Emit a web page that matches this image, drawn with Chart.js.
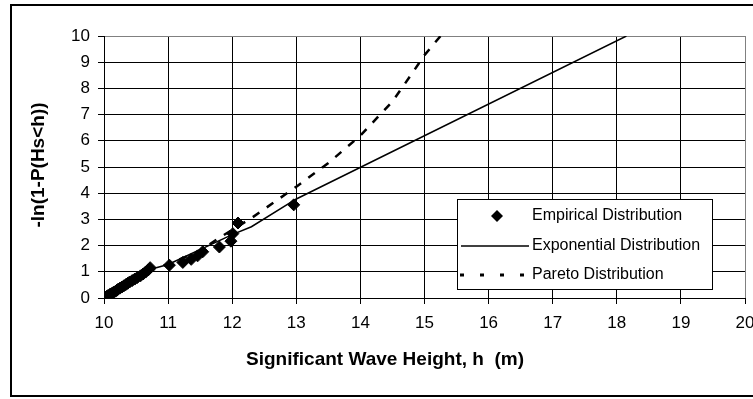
<!DOCTYPE html>
<html>
<head>
<meta charset="utf-8">
<script src="https://cdn.jsdelivr.net/npm/chart.js@4.4.1/dist/chart.umd.min.js"></script>
<style>
  html, body { margin: 0; padding: 0; background: #fff; }
  #wrap { position: relative; width: 753px; height: 399px; }
</style>
</head>
<body>
<div id="wrap"><canvas id="chart"></canvas></div>
<script>
// ranked storm peaks: wave height (m) vs -ln(1 - P)
const empiricalH = [
  10.02, 10.04, 10.06, 10.09, 10.10, 10.13, 10.15, 10.18, 10.20, 10.22,
  10.25, 10.28, 10.31, 10.34, 10.37, 10.40, 10.44, 10.48, 10.52, 10.57,
  10.61, 10.65, 10.69, 10.72, 11.02, 11.23, 11.36, 11.46, 11.54, 11.80,
  11.98, 12.01, 12.09, 12.96,
];
const empiricalY = [
  0.029, 0.059, 0.090, 0.121, 0.154, 0.188, 0.223, 0.260, 0.298, 0.336,
  0.377, 0.420, 0.464, 0.511, 0.560, 0.611, 0.665, 0.722, 0.782, 0.847,
  0.916, 0.990, 1.070, 1.157, 1.253, 1.358, 1.476, 1.609, 1.764, 1.946,
  2.169, 2.457, 2.862, 3.555,
];

// fitted curves
const exponentialH = [10.0, 10.7, 11.0, 12.0, 12.3, 13.0, 18.15];
const exponentialY = [0.0, 1.08, 1.28, 2.42, 2.72, 3.78, 10.0];

const paretoH = [10.0, 10.7, 11.0, 11.5, 11.8, 12.3, 12.75, 13.0, 13.5, 14.0, 14.5, 14.8, 15.0, 15.25];
const paretoY = [0.0, 1.02, 1.3, 1.8, 2.3, 3.05, 3.82, 4.25, 5.15, 6.2, 7.5, 8.55, 9.27, 10.0];

const xTickValues = [10, 11, 12, 13, 14, 15, 16, 17, 18, 19, 20];
const yTickValues = [0, 1, 2, 3, 4, 5, 6, 7, 8, 9, 10];

const seriesLabels = ['Empirical Distribution', 'Exponential Distribution', 'Pareto Distribution'];
const xTitle = 'Significant Wave Height, h  (m)';
const yTitle = '-ln(1-P(Hs<h))';

const FONT = '"Liberation Sans", Arial, sans-serif';
const toPoints = (xs, ys) => xs.map((x, i) => ({ x, y: ys[i] }));

// outer frame, axis titles and the boxed legend
const decorations = {
  id: 'decorations',
  afterDraw(chart) {
    const { ctx } = chart;
    const ds = chart.data.datasets;
    ctx.save();

    ctx.strokeStyle = '#000';
    ctx.lineWidth = 2;
    ctx.strokeRect(11, 5, 760, 391);

    ctx.fillStyle = '#000';
    ctx.font = `bold 19px ${FONT}`;
    ctx.textAlign = 'center';
    ctx.textBaseline = 'middle';
    ctx.fillText(xTitle, 385, 360);
    ctx.translate(39, 165);
    ctx.rotate(-Math.PI / 2);
    ctx.fillText(yTitle, 0, 0);
    ctx.setTransform(1, 0, 0, 1, 0, 0);

    // legend box
    ctx.fillStyle = '#fff';
    ctx.fillRect(457.5, 199.5, 255, 90);
    ctx.strokeStyle = '#000';
    ctx.lineWidth = 1;
    ctx.strokeRect(457.5, 199.5, 255, 90);

    const rows = [216, 246, 275];
    ctx.fillStyle = ds[0].pointBackgroundColor;
    ctx.beginPath();
    ctx.moveTo(497, rows[0] - 6);
    ctx.lineTo(503, rows[0]);
    ctx.lineTo(497, rows[0] + 6);
    ctx.lineTo(491, rows[0]);
    ctx.closePath();
    ctx.fill();

    ctx.strokeStyle = ds[1].borderColor;
    ctx.lineWidth = ds[1].borderWidth;
    ctx.beginPath();
    ctx.moveTo(461, rows[1]);
    ctx.lineTo(529, rows[1]);
    ctx.stroke();

    ctx.strokeStyle = ds[2].borderColor;
    ctx.lineWidth = 3;
    ctx.setLineDash([4, 16]);
    ctx.beginPath();
    ctx.moveTo(460, rows[2]);
    ctx.lineTo(530, rows[2]);
    ctx.stroke();
    ctx.setLineDash([]);

    ctx.fillStyle = '#000';
    ctx.font = `16px ${FONT}`;
    ctx.textAlign = 'left';
    seriesLabels.forEach((label, i) => ctx.fillText(label, 532, rows[i]));
    ctx.restore();
  },
};

const gridColor = (edgeValue) => (c) => (c.tick && c.tick.value === edgeValue ? '#808080' : '#000');

new Chart(document.getElementById('chart'), {
  type: 'scatter',
  data: {
    datasets: [
      {
        label: seriesLabels[0],
        data: toPoints(empiricalH, empiricalY),
        pointStyle: 'rectRot',
        pointRadius: 6,
        pointBackgroundColor: '#000',
        pointBorderColor: '#000',
        pointBorderWidth: 1,
        showLine: false,
        order: 3,
      },
      {
        label: seriesLabels[1],
        data: toPoints(exponentialH, exponentialY),
        showLine: true,
        borderColor: '#000',
        borderWidth: 1.5,
        pointRadius: 0,
        tension: 0,
        order: 2,
      },
      {
        label: seriesLabels[2],
        data: toPoints(paretoH, paretoY),
        showLine: true,
        borderColor: '#000',
        borderWidth: 2.5,
        borderDash: [8, 9],
        pointRadius: 0,
        tension: 0,
        order: 1,
      },
    ],
  },
  options: {
    responsive: true,
    maintainAspectRatio: false,
    animation: false,
    layout: { padding: { top: 36, right: 8, left: 0, bottom: 0 } },
    plugins: { legend: { display: false }, tooltip: { enabled: false } },
    scales: {
      x: {
        type: 'linear',
        min: xTickValues[0],
        max: xTickValues[xTickValues.length - 1],
        afterBuildTicks: (s) => { s.ticks = xTickValues.map((v) => ({ value: v })); },
        // the last label is allowed to run off the right edge
        afterFit: (s) => { s.height = 101; s.paddingLeft = 0; s.paddingRight = 0; },
        grid: { color: gridColor(20), tickColor: '#000', lineWidth: 1, tickLength: 6 },
        border: { color: '#000', width: 1 },
        ticks: { color: '#000', font: { family: FONT, size: 17 }, padding: 9, maxRotation: 0, autoSkip: false },
      },
      y: {
        type: 'linear',
        min: yTickValues[0],
        max: yTickValues[yTickValues.length - 1],
        afterBuildTicks: (s) => { s.ticks = yTickValues.map((v) => ({ value: v })); },
        afterFit: (s) => { s.width = 104; s.paddingTop = 0; s.paddingBottom = 0; },
        grid: { color: gridColor(10), tickColor: '#000', lineWidth: 1, tickLength: 6 },
        border: { color: '#000', width: 1 },
        ticks: { color: '#000', font: { family: FONT, size: 17 }, padding: 8 },
      },
    },
  },
  plugins: [decorations],
});
</script>
</body>
</html>
